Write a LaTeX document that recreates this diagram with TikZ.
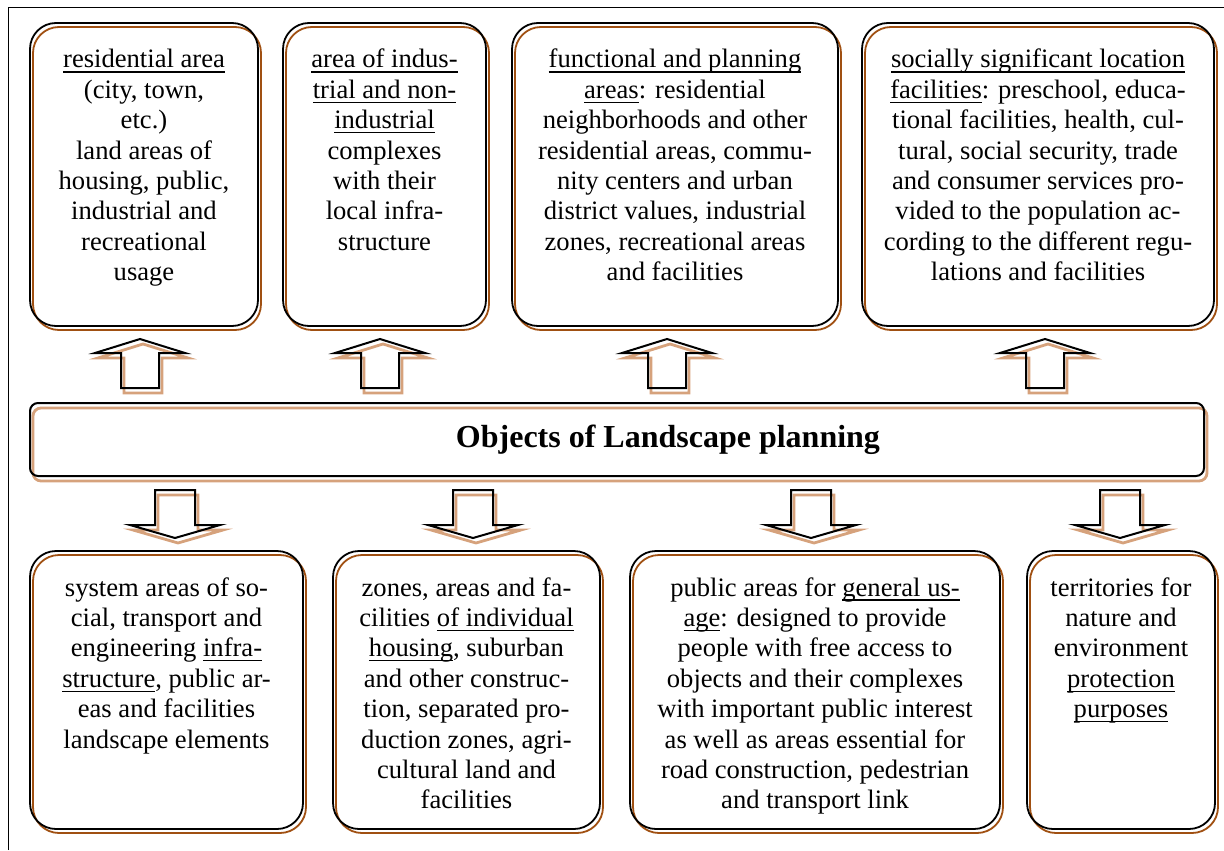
\documentclass[tikz,border=0pt]{standalone}
\usepackage{fontspec}
\setmainfont{Liberation Serif}
\definecolor{framebrown}{RGB}{160,80,18}
\definecolor{shadetan}{RGB}{214,162,124}
\newsavebox{\undlbox}
\newcommand{\undl}[1]{\leavevmode\sbox{\undlbox}{#1}\rlap{\rule[-2.3pt]{\wd\undlbox}{0.6pt}}\usebox{\undlbox}}
\newcommand{\boxtext}[3]{\parbox[c][#2][t]{#1}{\centering\rule{0pt}{22.5pt}#3}}
\tikzset{
  objbox/.style={rectangle, rounded corners=13pt, inner sep=0pt, line width=0.9pt,
    preaction={fill=white},
    preaction={draw=framebrown, line width=0.9pt, transform canvas={shift={(1.5pt,-2pt)}}},
    draw=black, font=\fontsize{13.3pt}{15.2pt}\selectfont},
  banner/.style={rectangle, rounded corners=4pt, inner sep=0pt, line width=1pt,
    preaction={draw=shadetan, line width=1.4pt, transform canvas={shift={(1.5pt,-2.5pt)}}},
    draw=black, minimum width=587pt, minimum height=36.5pt,
    font=\fontsize{16pt}{19pt}\selectfont\bfseries},
  arrowshade/.style={draw=shadetan, line width=1.4pt, shift={(3,5)}},
  arrowline/.style={draw=black, line width=1pt}
}
\begin{document}
\begin{tikzpicture}[x=0.5pt,y=-0.5pt]
    \useasboundingbox (0,0) rectangle (1224,850);
    \draw[line width=0.5pt] (8,850) -- (8,8) -- (1224,8);
    % upper row
    \node[objbox] (resarea) at (144,174.5) {\boxtext{114pt}{151.5pt}{\undl{residential area}\\(city, town,\\etc.)\\land areas of\\housing, public,\\industrial and\\recreational\\usage}};
    \node[objbox] (indarea) at (384.5,174.5) {\boxtext{101.5pt}{151.5pt}{\undl{area of indus-}\\\undl{trial and non-}\\\undl{industrial}\\complexes\\with their\\local infra-\\structure}};
    \node[objbox] (funcarea) at (675,174.5) {\boxtext{163pt}{151.5pt}{\undl{functional and planning}\\\undl{areas}: residential\\neighborhoods and other\\residential areas, commu-\\nity centers and urban\\district values, industrial\\zones, recreational areas\\and facilities}};
    \node[objbox] (socfac) at (1038,174.5) {\boxtext{176pt}{151.5pt}{\undl{socially significant location}\\\undl{facilities}: preschool, educa-\\tional facilities, health, cul-\\tural, social security, trade\\and consumer services pro-\\vided to the population ac-\\cording to the different regu-\\lations and facilities}};
    % middle
    \node[banner] (objects) at (617,439.5) {\makebox[587pt]{\hspace{51pt}\raisebox{-1.5pt}{Objects of Landscape planning}}};
    % lower row
    \node[objbox] (sysarea) at (166.5,690) {\boxtext{136.5pt}{139pt}{system areas of so-\\cial, transport and\\engineering \undl{infra-}\\\undl{structure}, public ar-\\eas and facilities\\landscape elements}};
    \node[objbox] (housing) at (466.5,690) {\boxtext{133.5pt}{139pt}{zones, areas and fa-\\cilities \undl{of individual}\\\undl{housing}, suburban\\and other construc-\\tion, separated pro-\\duction zones, agri-\\cultural land and\\facilities}};
    \node[objbox] (pubarea) at (815,690) {\boxtext{185pt}{139pt}{public areas for \undl{general us-}\\\undl{age}: designed to provide\\people with free access to\\objects and their complexes\\with important public interest\\as well as areas essential for\\road construction, pedestrian\\and transport link}};
    \node[objbox] (natprot) at (1121,690) {\boxtext{94pt}{139pt}{territories for\\nature and\\environment\\\undl{protection}\\\undl{purposes}}};
    % block arrows
    \foreach \ax in {140,380,667,1045}{
      \draw[arrowshade] (\ax-19,388) -- (\ax-19,353) -- (\ax-45,353) -- (\ax,339) -- (\ax+45,353) -- (\ax+19,353) -- (\ax+19,388) -- cycle;
      \draw[arrowline] (\ax-19,388) -- (\ax-19,353) -- (\ax-45,353) -- (\ax,339) -- (\ax+45,353) -- (\ax+19,353) -- (\ax+19,388) -- cycle;
    }
    \foreach \ax in {175,473,811,1120}{
      \draw[arrowshade] (\ax-20,490) -- (\ax-20,525) -- (\ax-45,525) -- (\ax,538) -- (\ax+45,525) -- (\ax+20,525) -- (\ax+20,490) -- cycle;
      \draw[arrowline] (\ax-20,490) -- (\ax-20,525) -- (\ax-45,525) -- (\ax,538) -- (\ax+45,525) -- (\ax+20,525) -- (\ax+20,490) -- cycle;
    }
\end{tikzpicture}
\end{document}
